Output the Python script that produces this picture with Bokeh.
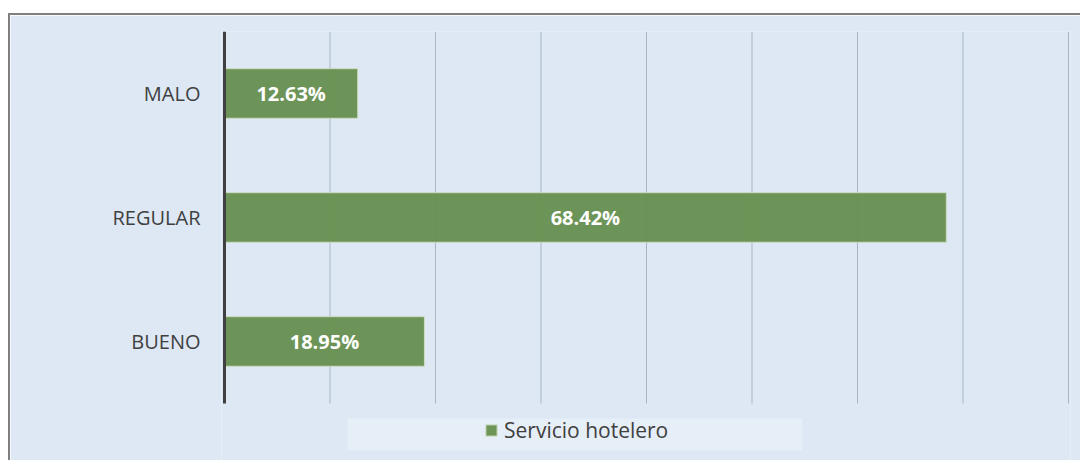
from bokeh.plotting import figure
from bokeh.models import (ColumnDataSource, Range1d, FixedTicker, Legend, LegendItem,
                          LabelSet, BoxAnnotation)
from bokeh.embed import file_html
from bokeh.resources import INLINE
from bokeh.core.properties import value

# ---- data ----
categories = ["BUENO", "REGULAR", "MALO"]
percentages = [18.95, 68.42, 12.63]
labels = ["18.95%", "68.42%", "12.63%"]
series_name = "Servicio hotelero"
x_ticks = [0, 10, 20, 30, 40, 50, 60, 70, 80]

BG = "#dde8f4"
BAR = "#668f4f"
FONT = "Open Sans"

pos = list(range(len(categories)))
src = ColumnDataSource(dict(
    pos=pos,
    val=percentages,
    mid=[v / 2 for v in percentages],
    lab=labels,
))

lo, hi = -0.5, len(categories) - 0.5

p = figure(
    x_range=Range1d(-0.284, 80.19),
    y_range=Range1d(lo - 0.476, hi),
    width=1072, height=447,
    output_backend="svg", toolbar_location=None,
    min_border_left=211, min_border_right=12,
    min_border_top=16, min_border_bottom=0,
)
p.background_fill_color = BG
p.border_fill_color = BG
p.outline_line_color = None
p.styles = {"border-top": "2px solid #7f7f7f", "border-left": "2px solid #7f7f7f",
            "margin-top": "13px", "margin-left": "8px"}

# legend background panel
p.add_layout(BoxAnnotation(left=335, right=790, top=401, bottom=433,
                           left_units="canvas", right_units="canvas",
                           top_units="canvas", bottom_units="canvas",
                           fill_color="#e6eef7", fill_alpha=1, line_color=None))

# vertical gridlines
p.segment(x0=x_ticks[1:], x1=x_ticks[1:], y0=lo, y1=hi,
          line_color="#a9b5c0", line_width=1)

bars = p.hbar(y="pos", right="val", left=0, height=0.4, source=src,
              fill_color=BAR, fill_alpha=0.95, line_color="#cfdcc3", line_width=1)

# category axis line
p.segment(x0=[0], x1=[0], y0=[lo], y1=[hi], line_color="#404040", line_width=3)

p.add_layout(LabelSet(x="mid", y="pos", text="lab", source=src,
                      text_align="center", text_baseline="middle",
                      text_color="white", text_font=value(FONT),
                      text_font_size="20px", text_font_style="bold"))

p.xaxis.visible = False
p.xgrid.visible = False
p.ygrid.visible = False

yax = p.yaxis[0]
yax.ticker = FixedTicker(ticks=pos)
yax.major_label_overrides = {i: c for i, c in zip(pos, categories)}
yax.axis_line_color = None
yax.major_tick_line_color = None
yax.minor_tick_line_color = None
yax.major_label_standoff = 15
yax.major_label_text_font = FONT
yax.major_label_text_font_size = "20px"
yax.major_label_text_color = "#404040"

legend = Legend(items=[LegendItem(label=series_name, renderers=[bars])],
                location=(263, 18), orientation="horizontal",
                background_fill_alpha=0, border_line_color=None,
                padding=0, margin=0, glyph_width=14, glyph_height=14,
                label_standoff=6, label_text_font=FONT,
                label_text_font_size="21px", label_text_color="#404040")
p.add_layout(legend, "center")

open("out.html", "w").write(file_html(p, INLINE))
